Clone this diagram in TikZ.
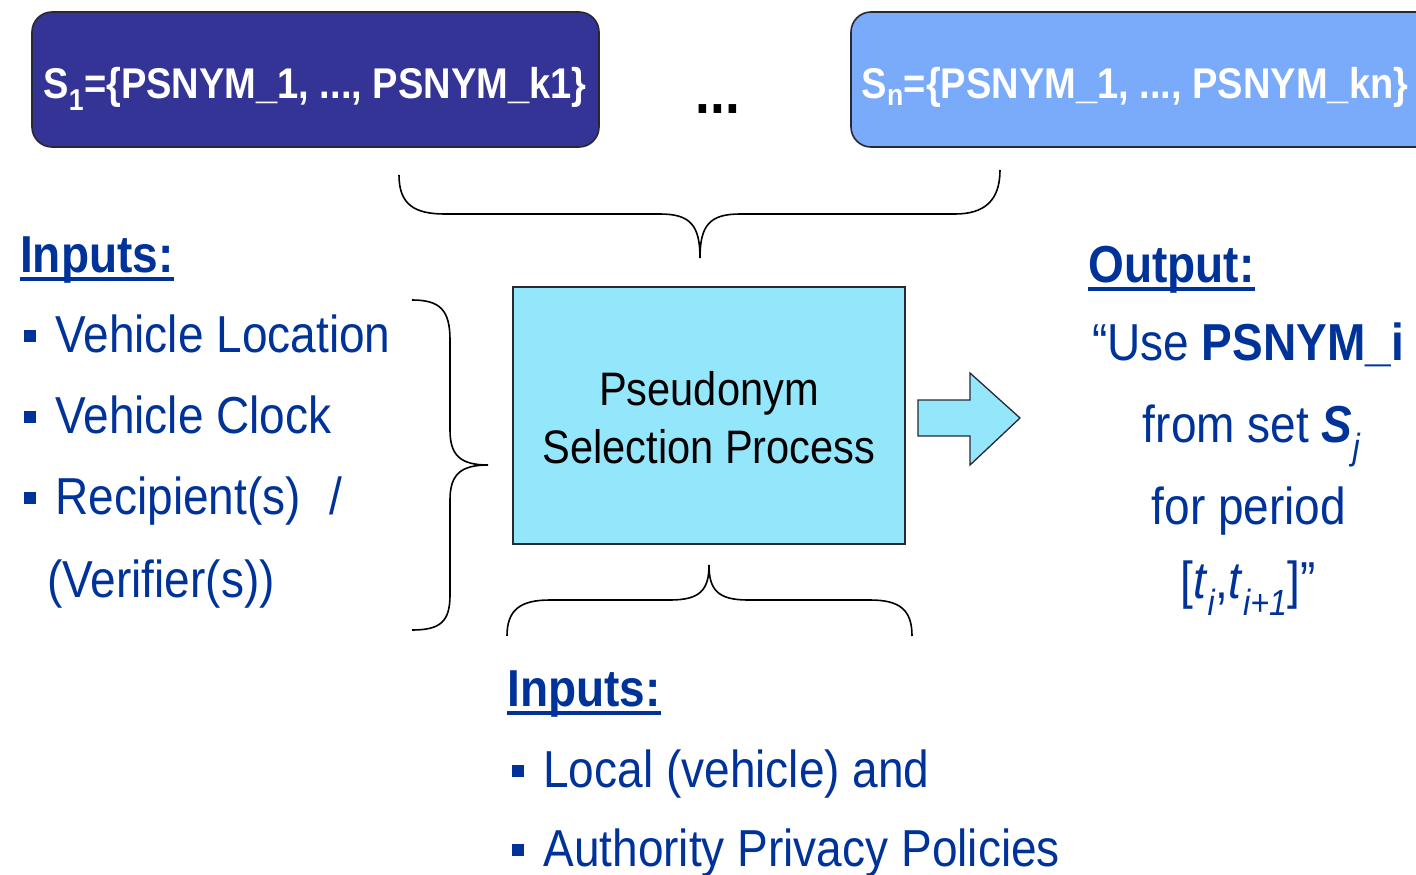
\documentclass[tikz,border=0pt]{standalone}
\usepackage{fontspec}
\setmainfont{Liberation Sans}[FakeStretch=0.885]
\definecolor{txtblue}{RGB}{0,51,153}
\definecolor{setdark}{RGB}{52,52,150}
\definecolor{setlight}{RGB}{122,170,250}
\definecolor{procfill}{RGB}{148,230,250}
\definecolor{edgegray}{RGB}{40,40,50}
\newcommand\txtbig{\fontsize{52}{62}\selectfont}
\newcommand\sqbul{\textcolor{txtblue}{\rule[0.19em]{0.23em}{0.23em}}\hspace{0.37em}}
\begin{document}
\begin{tikzpicture}[x=1pt,y=-1pt,
  setbox/.style={draw=edgegray,line width=1.6pt,rounded corners=20pt},
  settext/.style={inner sep=0pt,anchor=base,text=white,font=\fontsize{43}{50}\selectfont\bfseries},
  item/.style={inner sep=0pt,anchor=base west,text=txtblue,font=\txtbig},
  head/.style={inner sep=0pt,anchor=base west,text=txtblue,font=\txtbig\bfseries},
  uline/.style={line width=3.5pt,draw=txtblue},
  brace/.style={draw=black,line width=1.6pt},
  proc/.style={draw=edgegray,line width=1.3pt,fill=procfill}]
\useasboundingbox (0,0) rectangle (1416,875);

% pseudonym sets
\path[setbox,fill=setdark] (32,12) rectangle (599,147);
\node[settext] (s1) at (315,98) {S\textsubscript{1}=\{PSNYM\_1, ..., PSNYM\_k1\}};
\node[inner sep=0pt,anchor=base,font=\fontsize{60}{66}\selectfont\bfseries] (dots) at (718,113) {...};
\path[setbox,fill=setlight] (851,12) rectangle (1440,147);
\node[settext] (sn) at (1135,98) {S\textsubscript{n}=\{PSNYM\_1, ..., PSNYM\_kn\}};

% brace gathering the sets
\draw[brace] (399,175) .. controls (399,205) and (415,214) .. (445,214) -- (660,214)
  .. controls (690,214) and (700,225) .. (700,258)
  .. controls (700,225) and (710,214) .. (740,214) -- (955,214)
  .. controls (985,214) and (1000,200) .. (1000,170);

% left inputs
\node[head] (inl) at (20,272) {Inputs:};
\draw[uline] ([yshift=-7pt]inl.base west) -- ([yshift=-7pt]inl.base east);
\node[item] (i1) at (24,352) {\sqbul Vehicle Location};
\node[item] (i2) at (24,433) {\sqbul Vehicle Clock};
\node[item] (i3) at (24,514) {\sqbul Recipient(s)\hspace{0.55em}/};
\node[item] (i4) at (47,597) {(Verifier(s))};

\draw[brace] (412,300) .. controls (440,300) and (450,310) .. (450,340) -- (450,430)
  .. controls (450,455) and (460,465) .. (488,465)
  .. controls (460,465) and (450,475) .. (450,500) -- (450,595)
  .. controls (450,622) and (440,630) .. (412,630);

% process
\path[proc] (513,287) rectangle (905,544);
\node[inner sep=0pt,anchor=base,font=\fontsize{47}{55}\selectfont] (p1) at (709,405) {Pseudonym};
\node[inner sep=0pt,anchor=base,font=\fontsize{47}{55}\selectfont] (p2) at (709,463) {Selection Process};

\path[proc] (918,400) -- (970,400) -- (970,373) -- (1020,418) -- (970,465) -- (970,436) -- (918,436) -- cycle;

% output
\node[head] (out) at (1088,282) {Output:};
\draw[uline] ([yshift=-7pt]out.base west) -- ([yshift=-7pt]out.base east);
\node[item,anchor=base] (o1) at (1248,360) {``Use \textbf{PSNYM\_i}};
\node[item,anchor=base] (o2) at (1252,442) {from set \textbf{\textit{S}}\textsubscript{\textit{j}}};
\node[item,anchor=base] (o3) at (1249,524) {for period};
\node[item,anchor=base] (o4) at (1248,598) {[\textit{t}\textsubscript{\textit{i}},\textit{t}\textsubscript{\textit{i+1}}]''};

% bottom inputs
\draw[brace] (507,636) .. controls (507,610) and (520,600) .. (550,600) -- (670,600)
  .. controls (700,600) and (709,590) .. (709,565)
  .. controls (709,590) and (718,600) .. (748,600) -- (870,600)
  .. controls (900,600) and (912,610) .. (912,636);
\node[head] (inb) at (507,706) {Inputs:};
\draw[uline] ([yshift=-7pt]inb.base west) -- ([yshift=-7pt]inb.base east);
\node[item] (b1) at (512,787) {\sqbul Local (vehicle) and};
\node[item] (b2) at (512,866) {\sqbul Authority Privacy Policies};
\end{tikzpicture}
\end{document}
